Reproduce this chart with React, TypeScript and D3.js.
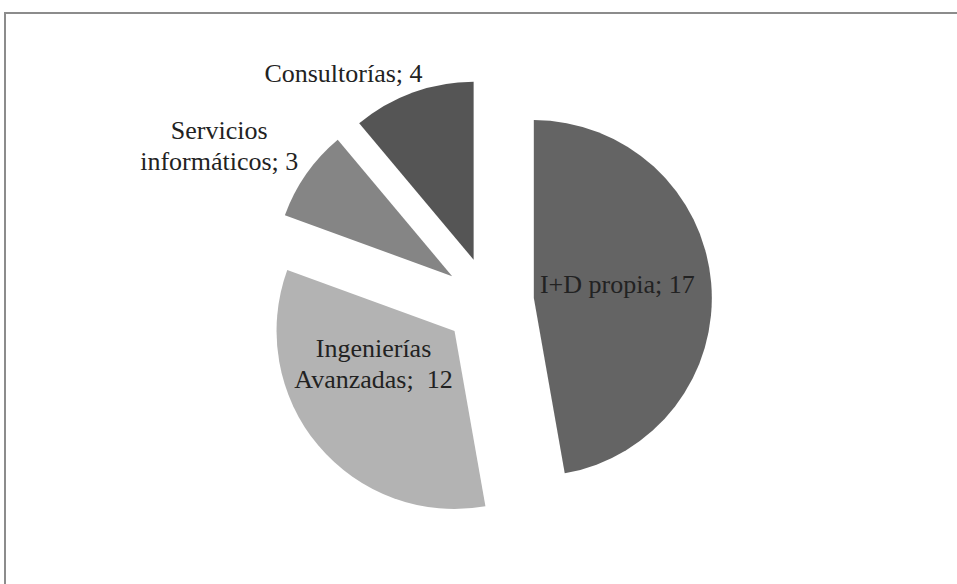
import React from "react";
import * as d3 from "d3";

const categories = ["I+D propia", "Ingenierías Avanzadas", "Servicios informáticos", "Consultorías"];
const values = [17, 12, 3, 4];
const labelLines = [["I+D propia; 17"], ["Ingenierías", "Avanzadas;  12"], ["Servicios", "informáticos; 3"], ["Consultorías; 4"]];
const colors = ["#646464", "#b3b3b3", "#858585", "#555555"];
// label placement relative to each exploded slice vertex: [angle deg, distance]
const labelPlace = [[80.7, 84.6], [247.6, 87.6], [299.2, 266.8], [325.1, 227.4]];

const W = 957, H = 584;
const cx = 489, cy = 302, R = 178, explode = 45;
const fontSize = 26;
const lh = 31;
const capHalf = fontSize * 0.662 / 2;

export default function App() {
  const pie = d3.pie<number>().sort(null).value((d) => d).startAngle(0).endAngle(2 * Math.PI);
  const arcs = pie(values);
  const arc = d3.arc<d3.PieArcDatum<number>>().innerRadius(0).outerRadius(R);
  return (
    <svg width={W} height={H} style={{ position: "absolute", left: 0, top: 0, background: "#fff" }}
      fontFamily="'Liberation Serif', 'Times New Roman', serif">
      <rect x={5} y={13} width={W + 20} height={H + 20} fill="#fff" stroke="#8c8c8c" strokeWidth={2} />
      {arcs.map((a, i) => {
        const mid = (a.startAngle + a.endAngle) / 2;
        const ox = cx + explode * Math.sin(mid);
        const oy = cy - explode * Math.cos(mid);
        return (
          <path key={categories[i]} d={arc(a) || ""} transform={`translate(${ox},${oy})`} fill={colors[i]} />
        );
      })}
      {arcs.map((a, i) => {
        const mid = (a.startAngle + a.endAngle) / 2;
        const ox = cx + explode * Math.sin(mid);
        const oy = cy - explode * Math.cos(mid);
        const la = (labelPlace[i][0] * Math.PI) / 180;
        const lx = ox + labelPlace[i][1] * Math.sin(la);
        const ly = oy - labelPlace[i][1] * Math.cos(la);
        const lines = labelLines[i];
        return (
          <text key={"l" + i} textAnchor="middle" fontSize={fontSize} fill="#222" style={{ whiteSpace: "pre" }}>
            {lines.map((t, j) => (
              <tspan key={j} x={lx} y={ly + (j - (lines.length - 1) / 2) * lh + capHalf}>{t}</tspan>
            ))}
          </text>
        );
      })}
    </svg>
  );
}
